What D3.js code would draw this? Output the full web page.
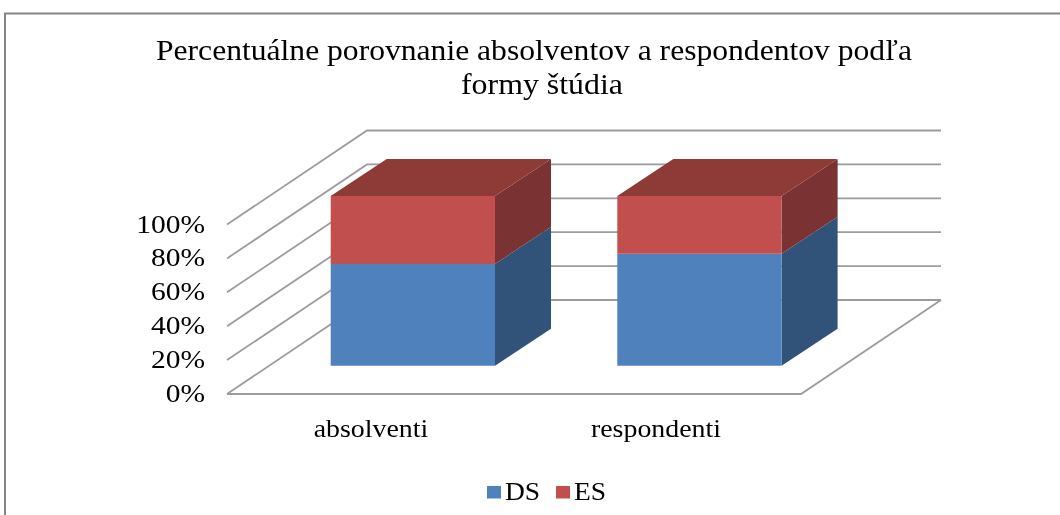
<!DOCTYPE html>
<html><head><meta charset="utf-8">
<script src="https://cdn.jsdelivr.net/npm/d3@7/dist/d3.min.js"></script>
<style>html,body{margin:0;padding:0;background:#fff;overflow:hidden}
text{font-family:"Liberation Serif",serif;fill:#000}</style></head>
<body><svg id="c" width="1060" height="515"></svg>
<script>
const categories = ["absolventi", "respondenti"];
const seriesNames = ["DS", "ES"];
const dsValues = [60, 66];
const esValues = [40, 34];
const tickValues = [0, 20, 40, 60, 80, 100];
const titleLines = ["Percentuálne porovnanie absolventov a respondentov podľa", "formy štúdia"];
const frontColors = ["#4F81BD", "#C0504D"];
const sideColors = ["#325379", "#7A3230"];
const topColor = "#8E3B38";
const gridColor = "#9C9C9C";

const svg = d3.select("#c");
const defs = svg.append("defs");
defs.append("filter").attr("id","soft").attr("x","-5%").attr("y","-5%").attr("width","110%").attr("height","110%")
  .append("feGaussianBlur").attr("stdDeviation",0.45);
const root = svg.append("g").attr("filter","url(#soft)");

// stretch a label horizontally, the reference text is wider than its height suggests
const stretch = k => function(){ this.setAttribute("textLength", this.getComputedTextLength()*k); this.setAttribute("lengthAdjust","spacingAndGlyphs"); };

// frame
root.append("path").attr("d","M5,515V13.5H1060").attr("fill","none").attr("stroke","#858585").attr("stroke-width",2);

// title
const titleX = [534, 542];
root.selectAll("text.title").data(titleLines).join("text").attr("class","title")
  .attr("x",(d,i)=>titleX[i]).attr("y",(d,i)=>60+i*33.5).attr("text-anchor","middle")
  .attr("font-size",29).attr("textLength",(d,i)=>i===0?756:162).attr("lengthAdjust","spacingAndGlyphs").text(d=>d);

// scales: y on the front wall, x along the floor, depth from front to back wall
const y = d3.scaleLinear().domain([0,100]).range([394,224.5]);
const x = d3.scaleLinear().domain([0,2]).range([227,801]);
const wallDx = 140, wallDy = -94;

// gridlines
const grid = root.append("g").attr("fill","none").attr("stroke",gridColor).attr("stroke-width",1.8);
tickValues.forEach(t=>{
  const pts = [[x(0),y(t)],[x(0)+wallDx,y(t)+wallDy],[x(2)+wallDx,y(t)+wallDy]];
  grid.append("path").attr("d",d3.line()(pts));
});
grid.append("path").attr("d",d3.line()([[x(0),y(0)],[x(2),y(0)],[x(2)+wallDx,y(0)+wallDy]]));

// tick labels
root.selectAll("text.tick").data(tickValues).join("text").attr("class","tick")
  .attr("x",205).attr("y",t=>y(t)+8).attr("text-anchor","end")
  .attr("font-size",25).text(t=>t+"%").each(stretch(1.18));

// bars
const barX = d3.scalePoint().domain(categories).range([330.7,617.3]);
const barW = 164.3, barDx = 56, barDy = -37;
const barY = d3.scaleLinear().domain([0,100]).range([365.7,196]);
const poly = pts => pts.map(p=>p.join(",")).join(" ");
categories.forEach((c,i)=>{
  const x0 = barX(c), x1 = x0+barW;
  let base = 0;
  [dsValues[i],esValues[i]].forEach((v,s)=>{
    const y0 = barY(base), y1 = barY(base+v);
    root.append("polygon").attr("points",poly([[x1,y0],[x1+barDx,y0+barDy],[x1+barDx,y1+barDy],[x1,y1]])).attr("fill",sideColors[s]);
    root.append("polygon").attr("points",poly([[x0,y0],[x1,y0],[x1,y1],[x0,y1]])).attr("fill",frontColors[s]);
    base += v;
  });
  const yt = barY(100);
  root.append("polygon").attr("points",poly([[x0,yt],[x1,yt],[x1+barDx,yt+barDy],[x0+barDx,yt+barDy]])).attr("fill",topColor);
});

// category labels
const catX = d3.scalePoint().domain(categories).range([371,656]);
root.selectAll("text.cat").data(categories).join("text").attr("class","cat")
  .attr("x",d=>catX(d)).attr("y",437).attr("text-anchor","middle").attr("font-size",25).text(d=>d).each(stretch(1.115));

// legend
const legX = d3.scalePoint().domain(seriesNames).range([487,556]);
seriesNames.forEach((n,i)=>{
  root.append("rect").attr("x",legX(n)).attr("y",486).attr("width",14).attr("height",12.5).attr("fill",frontColors[i]);
  root.append("text").attr("x",legX(n)+18).attr("y",500).attr("font-size",25).text(n).each(stretch(1.1));
});
</script></body></html>
